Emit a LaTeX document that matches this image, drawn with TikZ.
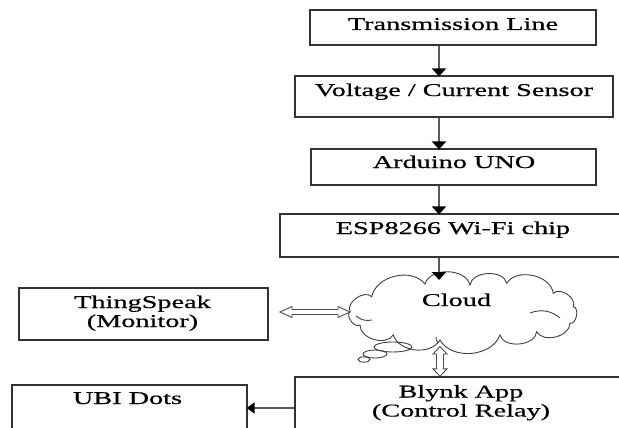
\documentclass[tikz,border=0pt]{standalone}
\usepackage{fontspec}
\setmainfont{Liberation Serif}
\newfontfamily\diafont{Liberation Serif}[FakeBold=0.5]
\usetikzlibrary{arrows.meta,calc}
\newcommand\sx[1]{\scalebox{1.57}[1]{#1}}
\tikzset{
  box/.style={draw=black!80, line width=1.2pt, rectangle, inner sep=0pt},
  txt/.style={inner sep=0pt, anchor=base, align=center, font=\diafont\fontsize{18}{19}\selectfont, text=black},
  arr/.style={draw=black!65, line width=2.4pt, -{Triangle[width=14pt,length=8pt,color=black,fill=black]}, shorten >=-1pt},
  hollow/.style={draw=black!70, line width=0.9pt, fill=white, line join=miter},
  cloudline/.style={draw=black!75, line width=0.9pt},
  puff/.style={bend left=#1},
  puff/.default=75,
}
\begin{document}
\begin{tikzpicture}[x=1pt,y=-1pt]
\useasboundingbox (0,0) rectangle (619,428);
\clip (0,0) rectangle (619,428);
% boxes
\node[box, minimum width=286pt, minimum height=35pt] (tl) at (453,27.5) {};
\node[box, minimum width=318pt, minimum height=41pt] (vc) at (454,96.5) {};
\node[box, minimum width=285pt, minimum height=36pt] (ard) at (453.5,167) {};
\node[box, minimum width=347pt, minimum height=43pt] (esp) at (453.5,235.5) {};
\node[box, minimum width=249pt, minimum height=52pt] (ts) at (143.5,314) {};
\node[box, minimum width=235pt, minimum height=60pt] (ubi) at (129.5,415) {};
\node[box, minimum width=332pt, minimum height=66pt] (bl) at (461,410) {};
% texts
\node[txt] (tlt) at (453,30) {\sx{Transmission Line}};
\node[txt] (vct) at (454,96) {\sx{Voltage / Current Sensor}};
\node[txt] (ardt) at (454,168) {\sx{Arduino UNO}};
\node[txt] (espt) at (453,234) {\sx{ESP8266 Wi-Fi chip}};
\node[txt] (tst) at (142.5,327) {\sx{ThingSpeak}\\\sx{(Monitor)}};
\node[txt] (ubit) at (127.5,404) {\sx{UBI Dots}};
\node[txt] (blt) at (461,416.5) {\sx{Blynk App}\\\sx{(Control Relay)}};
% cloud
\coordinate (c0) at (350,311.7);
\coordinate (c1) at (371.7,296.7);
\coordinate (c2) at (425,284);
\coordinate (c3) at (470,285);
\coordinate (c4) at (506.7,283.3);
\coordinate (c5) at (553.3,293.3);
\coordinate (c6) at (573.3,306.7);
\coordinate (c7) at (570,323.3);
\coordinate (c8) at (536.7,331.7);
\coordinate (c9) at (500,335);
\coordinate (c10) at (440,340);
\coordinate (c11) at (393.3,335);
\coordinate (c12) at (360,325);
\draw[cloudline, fill=white] (c0) to[puff=80] (c1) to[puff=65] (c2) to[puff=75] (c3) to[puff=80] (c4)
  to[puff=70] (c5) to[puff=80] (c6) to[puff=90] (c7) to[puff=75] (c8) to[puff=80] (c9)
  to[puff=65] (c10) to[puff=65] (c11) to[puff=75] (c12) to[puff=85] cycle;
\draw[cloudline] (356,316) to[bend right=25] (372,320);
\draw[cloudline] (530,313) to[bend left=30] (560,318);
\draw[cloudline] (436,337) to[bend right=20] (438,343);
\node[txt] (clt) at (456.5,306) {\sx{Cloud}};
\draw[cloudline] (393,347) ellipse (19pt and 5pt);
\draw[cloudline] (375,354) ellipse (12pt and 4pt);
\draw[cloudline] (364,359.5) ellipse (6pt and 2.7pt);
% arrows
\coordinate (ax) at (439,0);
\coordinate (cltop) at (439,279);
\draw[arr] (tl.south -| ax) -- (vc.north -| ax);
\draw[arr] (vc.south -| ax) -- (ard.north -| ax);
\draw[arr] (ard.south -| ax) -- (esp.north -| ax);
\draw[arr] (esp.south -| ax) -- (cltop);
\coordinate (by) at (0,408);
\draw[arr, line width=1.8pt, -{Triangle[width=11pt,length=8pt,color=black,fill=black]}] (bl.west |- by) -- (ubi.east |- by);
% hollow double arrows
\coordinate (h1) at (280,312);
\coordinate (h2) at (c0 |- h1);
\draw[hollow] (h1) -- ++(12,-5.5) -- ++(0,3) -- ($(h2)+(-12,-2.5)$) -- ++(0,-3) -- (h2) -- ++(-12,5.5) -- ++(0,-3) -- ($(h1)+(12,2.5)$) -- ++(0,3) -- cycle;
\coordinate (v1) at (440,346.5);
\coordinate (v2) at (bl.north -| v1);
\draw[hollow] (v1) -- ++(7,7.5) -- ++(-3.5,0) -- ($(v2)+(3.5,-7.5)$) -- ++(3.5,0) -- (v2) -- ++(-7,-7.5) -- ++(3.5,0) -- ($(v1)+(-3.5,7.5)$) -- ++(-3.5,0) -- cycle;
\end{tikzpicture}
\end{document}
